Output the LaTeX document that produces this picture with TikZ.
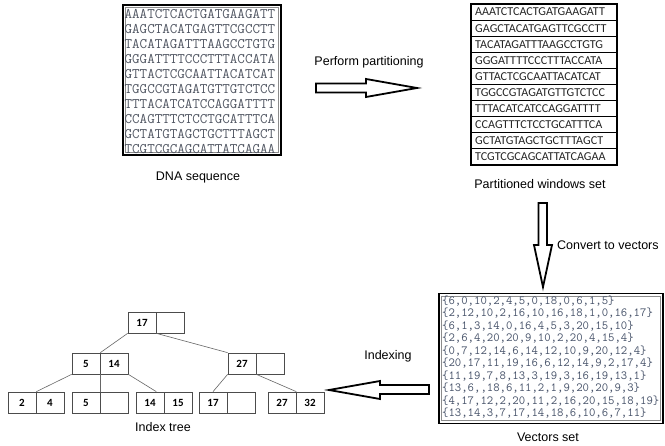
\documentclass[tikz,border=0pt]{standalone}
\usepackage{fontspec}
\setmainfont{Liberation Sans}
\newfontfamily\calib{Carlito}
\usetikzlibrary{calc}
\definecolor{seqink}{RGB}{80,86,98}
\definecolor{vecink}{RGB}{70,82,105}
\begin{document}
\begin{tikzpicture}[x=1pt,y=-1pt,
  caption/.style={inner sep=0pt, font=\fontsize{12.5}{14}\selectfont},
  frame/.style={draw=black, line width=1.8pt, inner sep=0pt},
  dnaline/.style={anchor=west, inner sep=0pt, text=seqink, font=\ttfamily\fontsize{14.6}{15}\selectfont},
  winline/.style={anchor=west, inner sep=0pt, text=black!85, font=\calib\fontsize{12.1}{13}\selectfont},
  vecline/.style={anchor=west, inner sep=0pt, text=vecink, font=\ttfamily\fontsize{12.4}{13}\selectfont},
  cell/.style={draw=black!70, line width=0.7pt, minimum width=28pt, minimum height=21pt,
               inner sep=0pt, font=\calib\bfseries\fontsize{11}{11}\selectfont},
  link/.style={draw=black!60, line width=0.6pt},
  blockarrow/.style={draw=black, line width=1.8pt, fill=white, line join=miter}]
\useasboundingbox (0,0) rectangle (665,446);
\fill[white] (0,0) rectangle (665,446);

% ---------- DNA sequence ----------
\node[frame, minimum width=158pt, minimum height=150pt] (dnabox) at (202,80) {};
\draw[black!45, line width=0.5pt] (125.5,7.5) rectangle (278.5,152.5);
\foreach \s [count=\i] in {AAATCTCACTGATGAAGATT,GAGCTACATGAGTTCGCCTT,TACATAGATTTAAGCCTGTG,
  GGGATTTTCCCTTTACCATA,GTTACTCGCAATTACATCAT,TGGCCGTAGATGTTGTCTCC,TTTACATCATCCAGGATTTT,
  CCAGTTTCTCCTGCATTTCA,GCTATGTAGCTGCTTTAGCT,TCGTCGCAGCATTATCAGAA}
  \node[dnaline] (dna\i) at (124.5,{14.5+(\i-1)*14.9}) {\s};
\node[caption] (dnacap) at (198,177) {DNA sequence};

% ---------- Partitioned windows ----------
\node[frame, minimum width=146pt, minimum height=161pt] (winbox) at (544,84.5) {};
\foreach \k in {1,...,9}
  \draw[black, line width=0.9pt] (471,{4+\k*16.1}) -- (617,{4+\k*16.1});
\foreach \s [count=\i] in {AAATCTCACTGATGAAGATT,GAGCTACATGAGTTCGCCTT,TACATAGATTTAAGCCTGTG,
  GGGATTTTCCCTTTACCATA,GTTACTCGCAATTACATCAT,TGGCCGTAGATGTTGTCTCC,TTTACATCATCCAGGATTTT,
  CCAGTTTCTCCTGCATTTCA,GCTATGTAGCTGCTTTAGCT,TCGTCGCAGCATTATCAGAA}
  \node[winline] (win\i) at (475,{4+(\i-0.5)*16.1}) {\s};
\node[caption] (wincap) at (540,184) {Partitioned windows set};

% ---------- Vectors ----------
\node[frame, minimum width=224pt, minimum height=130pt] (vecbox) at (551,358.5) {};
\draw[black!45, line width=0.5pt] (441.5,296.5) rectangle (660.5,420.5);
\foreach \s [count=\i] in {{\{6,0,10,2,4,5,0,18,0,6,1,5\}},
  {\{2,12,10,2,16,10,16,18,1,0,16,17\}},
  {\{6,1,3,14,0,16,4,5,3,20,15,10\}},
  {\{2,6,4,20,20,9,10,2,20,4,15,4\}},
  {\{0,7,12,14,6,14,12,10,9,20,12,4\}},
  {\{20,17,11,19,16,6,12,14,9,2,17,4\}},
  {\{11,19,7,8,13,3,19,3,16,19,13,1\}},
  {\{13,6,,18,6,11,2,1,9,20,20,9,3\}},
  {\{4,17,12,2,20,11,2,16,20,15,18,19\}},
  {\{13,14,3,7,17,14,18,6,10,6,7,11\}}}
  \node[vecline] (vec\i) at (442,{301+(\i-1)*12.45}) {\s};
\node[caption] (veccap) at (548,437) {Vectors set};

% ---------- Block arrows between the stages ----------
\draw[blockarrow] (316,83.5) -- (366,83.5) -- (366,79) -- (417,88) -- (366,97)
  -- (366,92.5) -- (316,92.5) -- cycle;
\node[caption] (partlbl) at (369,62) {Perform partitioning};

\draw[blockarrow] (538.5,203) -- (547,203) -- (547,245) -- (552,245) -- (543,287)
  -- (534,245) -- (538.5,245) -- cycle;
\node[caption, anchor=west] (convlbl) at (557,245) {Convert to vectors};

\draw[blockarrow] (429,385) -- (380,385) -- (380,381) -- (329,390) -- (380,399)
  -- (380,394) -- (429,394) -- cycle;
\node[caption] (idxlbl) at (388,356) {Indexing};

% ---------- Index tree ----------
% root
\node[cell] (r1) at (142,322.5) {17};
\node[cell] (r2) at (170,322.5) {};
% inner level
\node[cell] (a1) at (86,363.5) {5};
\node[cell] (a2) at (114,363.5) {14};
\node[cell] (b1) at (242,363.5) {27};
\node[cell] (b2) at (270,363.5) {};
% leaves
\node[cell] (l1a) at (22,402.5) {2};
\node[cell] (l1b) at (50,402.5) {4};
\node[cell] (l2a) at (86,402.5) {5};
\node[cell] (l2b) at (114,402.5) {};
\node[cell] (l3a) at (150,402.5) {14};
\node[cell] (l3b) at (178,402.5) {15};
\node[cell] (l4a) at (213,402.5) {17};
\node[cell] (l4b) at (241,402.5) {};
\node[cell] (l5a) at (282,402.5) {27};
\node[cell] (l5b) at (310,402.5) {32};

\draw[link] (r1.south west) -- (a1.north east);
\draw[link] (r1.south east) -- (b1.north west);
\draw[link] (a1.south west) -- (l1a.north east);
\draw[link] (a1.south east) -- (l2a.north east);
\draw[link] (a2.south east) -- ($(l3a.north west)!0.72!(l3a.north east)$);
\draw[link] (b1.south west) -- (l4a.north);
\draw[link] (b1.south east) -- (l5a.north east);
\node[caption] (treecap) at (163,427) {Index tree};
\end{tikzpicture}
\end{document}
